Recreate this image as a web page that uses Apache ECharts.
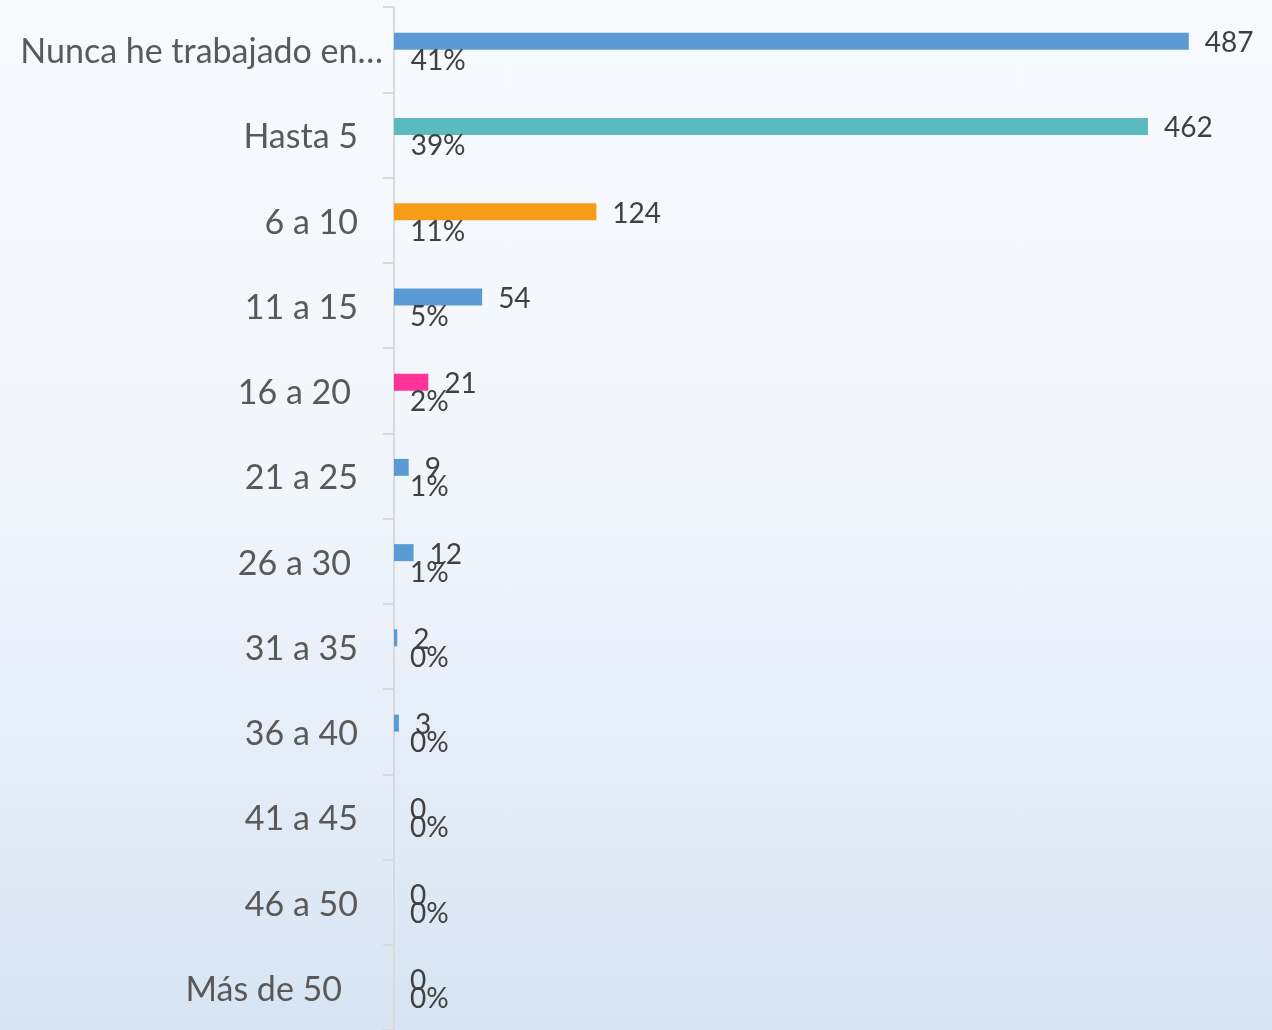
<!DOCTYPE html>
<html>
<head>
<meta charset="utf-8">
<script src="https://cdn.jsdelivr.net/npm/echarts@6/dist/echarts.min.js"></script>
<style>
  html, body { margin: 0; padding: 0; }
  #chart {
    width: 1272px;
    height: 1030px;
    background: linear-gradient(to bottom, #f7fafd 0%, #f2f6fc 45%, #e4edf8 75%, #d6e4f3 100%);
  }
</style>
</head>
<body>
<div id="chart"></div>
<script>
const categories = ["Nunca he trabajado en…", "Hasta 5", "6 a 10", "11 a 15", "16 a 20", "21 a 25",
  "26 a 30", "31 a 35", "36 a 40", "41 a 45", "46 a 50", "Más de 50"];
const counts = [487, 462, 124, 54, 21, 9, 12, 2, 3, 0, 0, 0];
const percents = [41, 39, 11, 5, 2, 1, 1, 0, 0, 0, 0, 0];

const barColors = ["#5b9bd5", "#5bbabd", "#f79c17", "#5b9bd5", "#ff3399", "#5b9bd5",
  "#5b9bd5", "#5b9bd5", "#5b9bd5", "#5b9bd5", "#5b9bd5", "#5b9bd5"];
// label right padding, mimics the uneven alignment of the original
const padStyle = ["n", "a", "a", "a", "b", "a", "b", "a", "a", "a", "a", "c"];

const chart = echarts.init(document.getElementById("chart"));

const labelBase = { fontSize: 34, color: "#595959", fontFamily: "Lato" };

const option = {
  animation: false,
  textStyle: { fontFamily: "Lato" },
  grid: { left: 394, right: 62, top: 7, bottom: -3 },
  xAxis: {
    type: "value",
    min: 0,
    max: 500,
    show: false
  },
  yAxis: {
    type: "category",
    data: categories,
    inverse: true,
    axisLine: { show: true, lineStyle: { color: "#d9d9d9", width: 2 } },
    axisTick: { show: true, length: 11, lineStyle: { color: "#d9d9d9", width: 2 } },
    axisLabel: {
      margin: 11,
      formatter: (value, idx) => `{${padStyle[idx]}|${value}}`,
      rich: {
        n: { ...labelBase, padding: [5, 0, 0, 0] },
        a: { ...labelBase, padding: [5, 25, 0, 0] },
        b: { ...labelBase, padding: [5, 32, 0, 0] },
        c: { ...labelBase, padding: [5, 41, 0, 0] }
      }
    }
  },
  series: [
    {
      name: "Cantidad",
      type: "bar",
      data: counts,
      barWidth: 17,
      barGap: "0%",
      itemStyle: { color: p => barColors[p.dataIndex] },
      label: {
        show: true,
        position: "right",
        distance: 16,
        offset: [0, 2],
        fontSize: 28,
        color: "#404040",
        fontFamily: "Lato"
      }
    },
    {
      name: "Porcentaje",
      type: "bar",
      data: percents.map(v => v / 100),
      barWidth: 17,
      barGap: "0%",
      itemStyle: { color: "rgba(0,0,0,0)" },
      label: {
        show: true,
        position: "right",
        distance: 16,
        offset: [0, 3],
        fontSize: 28,
        color: "#404040",
        fontFamily: "Lato",
        formatter: p => percents[p.dataIndex] + "%"
      }
    }
  ]
};

chart.setOption(option);
window.addEventListener("resize", () => chart.resize());
</script>
</body>
</html>
